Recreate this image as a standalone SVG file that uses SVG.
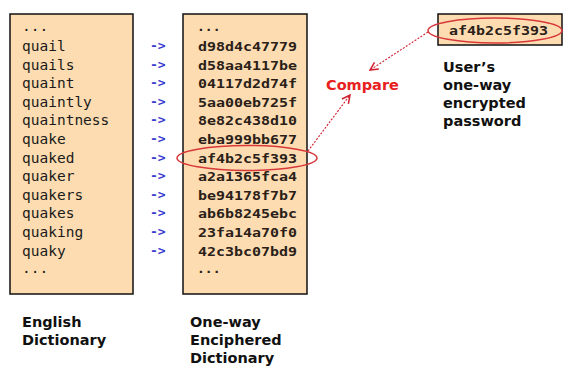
<svg xmlns="http://www.w3.org/2000/svg" width="563" height="367" viewBox="0 0 563 367">
<style>
.box{fill:#fddcb1;stroke:#111;stroke-width:1.5}
.word{font-family:"DejaVu Sans Mono",monospace;font-size:14.5px;fill:#1a1a1a}
.arr{font-family:"DejaVu Sans Mono",monospace;font-size:13px;font-weight:bold;fill:#3a3ad0}
.hash{font-family:"DejaVu Sans Mono",monospace;font-size:13px;font-weight:bold;fill:#2a2018}
.lbl{font-family:"DejaVu Sans",sans-serif;font-size:14.5px;font-weight:bold;fill:#111}
.cmp{font-family:"DejaVu Sans",sans-serif;font-size:14.5px;font-weight:bold;fill:#e82020}
.ell{fill:none;stroke:#d8383a;stroke-width:1.5}
.con{fill:none;stroke:#d02030;stroke-width:1.1;stroke-dasharray:2 1.5}
</style>
<defs>
<marker id="ah" markerWidth="10" markerHeight="10" refX="9" refY="5" orient="auto" markerUnits="userSpaceOnUse">
<path d="M1,1 L9,5 L1,9" fill="none" stroke="#d02030" stroke-width="1.5"/>
</marker>
</defs>
<g id="english-dictionary">
<rect class="box" x="10" y="14" width="123" height="280"/>
<g class="word">
<text x="22" y="31">...</text>
<text x="22" y="51">quail</text>
<text x="22" y="69.6">quails</text>
<text x="22" y="88.2">quaint</text>
<text x="22" y="106.8">quaintly</text>
<text x="22" y="125.4">quaintness</text>
<text x="22" y="144">quake</text>
<text x="22" y="162.6">quaked</text>
<text x="22" y="181.2">quaker</text>
<text x="22" y="199.8">quakers</text>
<text x="22" y="218.4">quakes</text>
<text x="22" y="237">quaking</text>
<text x="22" y="255.6">quaky</text>
<text x="22" y="273">...</text>
</g>
<text class="lbl" x="22" y="327">English</text>
<text class="lbl" x="22" y="345">Dictionary</text>
</g>
<g id="mapping-arrows" class="arr">
<text x="150" y="50">-&gt;</text>
<text x="150" y="68.6">-&gt;</text>
<text x="150" y="87.2">-&gt;</text>
<text x="150" y="105.8">-&gt;</text>
<text x="150" y="124.4">-&gt;</text>
<text x="150" y="143">-&gt;</text>
<text x="150" y="161.6">-&gt;</text>
<text x="150" y="180.2">-&gt;</text>
<text x="150" y="198.8">-&gt;</text>
<text x="150" y="217.4">-&gt;</text>
<text x="150" y="236">-&gt;</text>
<text x="150" y="254.6">-&gt;</text>
</g>
<g id="enciphered-dictionary">
<rect class="box" x="183" y="14" width="124" height="280"/>
<g class="hash">
<text x="197" y="31">...</text>
<text x="198" y="51" textLength="99" lengthAdjust="spacingAndGlyphs">d98d4c47779</text>
<text x="198" y="69.6" textLength="99" lengthAdjust="spacingAndGlyphs">d58aa4117be</text>
<text x="198" y="88.2" textLength="99" lengthAdjust="spacingAndGlyphs">04117d2d74f</text>
<text x="198" y="106.8" textLength="99" lengthAdjust="spacingAndGlyphs">5aa00eb725f</text>
<text x="198" y="125.4" textLength="99" lengthAdjust="spacingAndGlyphs">8e82c438d10</text>
<text x="198" y="144" textLength="99" lengthAdjust="spacingAndGlyphs">eba999bb677</text>
<text x="198" y="162.6" textLength="99" lengthAdjust="spacingAndGlyphs">af4b2c5f393</text>
<text x="198" y="181.2" textLength="99" lengthAdjust="spacingAndGlyphs">a2a1365fca4</text>
<text x="198" y="199.8" textLength="99" lengthAdjust="spacingAndGlyphs">be94178f7b7</text>
<text x="198" y="218.4" textLength="99" lengthAdjust="spacingAndGlyphs">ab6b8245ebc</text>
<text x="198" y="237" textLength="99" lengthAdjust="spacingAndGlyphs">23fa14a70f0</text>
<text x="198" y="255.6" textLength="99" lengthAdjust="spacingAndGlyphs">42c3bc07bd9</text>
<text x="197" y="273">...</text>
</g>
<ellipse class="ell" cx="247" cy="158" rx="70" ry="12.5"/>
<text class="lbl" x="190" y="327">One-way</text>
<text class="lbl" x="190" y="345">Enciphered</text>
<text class="lbl" x="190" y="363">Dictionary</text>
</g>
<g id="user-password">
<rect class="box" x="438" y="14" width="124" height="31"/>
<text class="hash" x="449" y="35" textLength="99" lengthAdjust="spacingAndGlyphs">af4b2c5f393</text>
<ellipse class="ell" cx="495" cy="30.5" rx="67" ry="12.5"/>
<text class="lbl" x="443" y="72">User’s</text>
<text class="lbl" x="443" y="90">one-way</text>
<text class="lbl" x="443" y="108">encrypted</text>
<text class="lbl" x="443" y="126">password</text>
</g>
<g id="compare">
<text class="cmp" x="326" y="90">Compare</text>
</g>
<g id="connectors">
<path class="con" d="M428,32 L370,70" marker-end="url(#ah)"/>
<path class="con" d="M308,151 L350,95" marker-end="url(#ah)"/>
</g>
</svg>
